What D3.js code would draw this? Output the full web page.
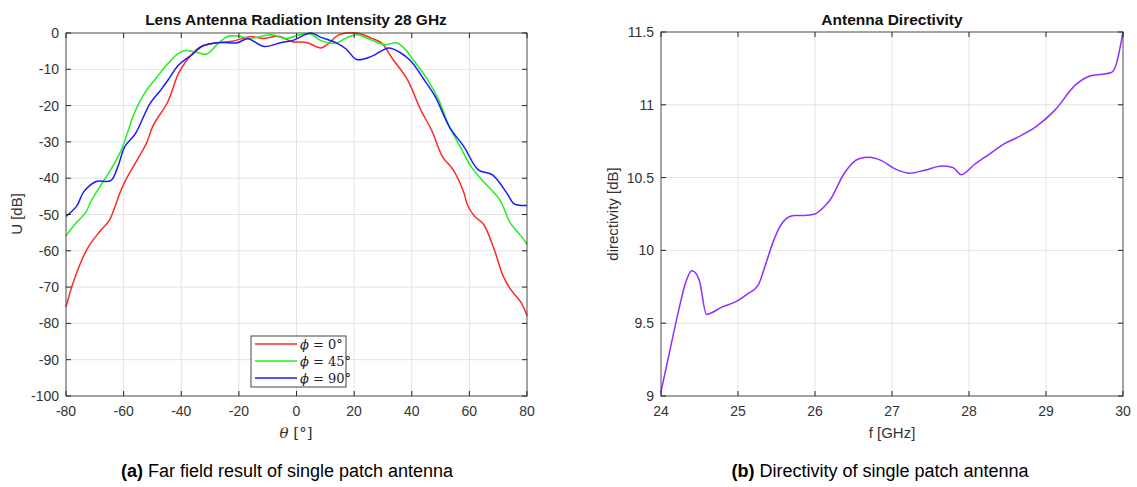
<!DOCTYPE html>
<html>
<head>
<meta charset="utf-8">
<script src="https://cdn.jsdelivr.net/npm/d3@7"></script>
<style>
  body { margin: 0; background: #fff; }
  svg text { font-family: "Liberation Sans", Arial, sans-serif; }
</style>
</head>
<body>
<svg id="chart" width="1137" height="487"></svg>
<script>
// 左图: 辐射强度 (theta, U dB)
var theta0 = [-80,-77.5,-72.6,-68.2,-65.1,-63.3,-61.5,-59.6,-54.6,-52.1,-49.7,-44.7,-41,-38.5,-33.6,-28.6,-22.4,-16.2,-11.3,-6.3,-1.4,3.5,8.5,11,14.7,20.9,25.9,29.6,33.3,38.3,43.2,46.9,50.7,54.4,58.1,59.3,61.8,64.9,68.6,71.7,74.2,77.9,80];
var u0 = [-75.5,-68.7,-59.4,-54.6,-51.8,-48.5,-44.5,-41,-34,-30.4,-25.4,-19,-11.2,-8,-3.9,-2.8,-2.3,-1,-1.5,-0.9,-2.4,-2.6,-4.1,-3,-0.5,0,-1.4,-2.8,-7.1,-12.6,-21.3,-26.8,-34.1,-37.7,-44,-47.3,-50.5,-52.7,-59.6,-66.9,-70.5,-74.2,-77.9];

var theta45 = [-80,-76.9,-73.2,-71.3,-68.2,-64.5,-60.8,-55.9,-52.1,-48.4,-44.7,-41,-38.5,-34.8,-31.1,-27.4,-23.7,-19.9,-16.2,-8.8,-3.8,1.2,5,8.5,13.5,17.2,20.9,25.9,30.8,34.6,37,40.7,45.7,49.4,53.1,56.8,60.6,64.3,70.5,74.2,77.9,80];
var u45 = [-55.9,-52.7,-49.5,-46.3,-42.3,-37.7,-32.2,-21.3,-15.8,-12.1,-8.5,-5.6,-4.8,-5.3,-5.8,-3,-0.9,-0.9,-1.5,-0.5,-1.5,-0.5,-0.3,-2.1,-2.8,-1.4,-0.5,-1.9,-3.2,-2.7,-3.9,-7.6,-13.1,-18.5,-25.9,-31.3,-36.8,-40.4,-45.9,-52.3,-55.9,-58.2];

var theta90 = [-80,-76.3,-73.8,-69.5,-64.5,-62,-59.6,-55.9,-50.9,-47.2,-44.7,-41,-36,-32.4,-26.2,-20.6,-16.9,-11.3,-5.1,-1.4,5,8.5,13.5,17.2,20.9,25.9,32,35.8,39.5,44.5,48.2,53.1,58.1,63.1,68,73,75.4,77.9,80];
var u90 = [-50.5,-47.7,-43.7,-40.9,-40.7,-36.8,-31.3,-27.7,-19.5,-15.8,-13.1,-8.9,-5.8,-3.5,-2.6,-2.7,-1.6,-3.7,-2.6,-2.1,0,-1.2,-2.6,-4.4,-7.3,-6.5,-4.1,-5.3,-7.6,-13.1,-17.6,-25.9,-31.3,-37.7,-39.1,-44.1,-47,-47.5,-47.5];

var thetaTicks = [-80,-60,-40,-20,0,20,40,60,80];
var uTicks = [0,-10,-20,-30,-40,-50,-60,-70,-80,-90,-100];
var legendLabels = ["0", "45", "90"];

// 右图: 方向性 (f GHz, D dB)
var freq = [24,24.11,24.23,24.32,24.4,24.44,24.5,24.59,24.65,24.79,24.98,25.12,25.26,25.35,25.45,25.54,25.63,25.73,25.86,26,26.1,26.2,26.38,26.57,26.71,26.85,27.04,27.23,27.42,27.65,27.79,27.9,28.07,28.26,28.45,28.68,28.87,29.11,29.39,29.58,29.72,29.84,29.9,30];
var direct = [9.03,9.3,9.59,9.78,9.86,9.85,9.79,9.56,9.57,9.61,9.65,9.7,9.76,9.89,10.05,10.16,10.22,10.24,10.24,10.25,10.29,10.35,10.53,10.63,10.64,10.62,10.56,10.53,10.55,10.58,10.57,10.52,10.59,10.66,10.73,10.79,10.85,10.96,11.14,11.2,11.21,11.22,11.26,11.5];
var fTicks = [24,25,26,27,28,29,30];
var dTicks = [9,9.5,10,10.5,11,11.5];
var dTickLabels = ["9","9.5","10","10.5","11","11.5"];

var svg = d3.select("#chart");
var gridColor = "#e3e3e3", axisColor = "#262626", tickText = "#333";

/* 网格 */
function drawGrid(x, y, xt, yt) {
    var g = svg.append("g");
    var x0 = x.range()[0], x1 = x.range()[1], y0 = y.range()[0], y1 = y.range()[1];
    g.selectAll(".gx").data(xt).enter().append("line")
        .attr("x1", d => x(d)).attr("x2", d => x(d))
        .attr("y1", y0).attr("y2", y1)
        .attr("stroke", gridColor).attr("stroke-width", 1);
    g.selectAll(".gy").data(yt).enter().append("line")
        .attr("x1", x0).attr("x2", x1)
        .attr("y1", d => y(d)).attr("y2", d => y(d))
        .attr("stroke", gridColor).attr("stroke-width", 1);
}

/* 坐标框, 刻度, 刻度标签 */
function drawBox(x, y, xt, yt, ytLabels) {
    var g = svg.append("g");
    var x0 = x.range()[0], x1 = x.range()[1], y0 = y.range()[0], y1 = y.range()[1];
    var tl = 5;
    // 内向刻度, 四边
    xt.forEach(function (d) {
        g.append("line").attr("x1", x(d)).attr("x2", x(d)).attr("y1", y0).attr("y2", y0 - tl).attr("stroke", axisColor);
        g.append("line").attr("x1", x(d)).attr("x2", x(d)).attr("y1", y1).attr("y2", y1 + tl).attr("stroke", axisColor);
    });
    yt.forEach(function (d) {
        g.append("line").attr("x1", x0).attr("x2", x0 + tl).attr("y1", y(d)).attr("y2", y(d)).attr("stroke", axisColor);
        g.append("line").attr("x1", x1).attr("x2", x1 - tl).attr("y1", y(d)).attr("y2", y(d)).attr("stroke", axisColor);
    });
    g.append("rect").attr("x", x0).attr("y", y1).attr("width", x1 - x0).attr("height", y0 - y1)
        .attr("fill", "none").attr("stroke", axisColor).attr("stroke-width", 1).attr("stroke-opacity", 0.75);
    g.selectAll(".xl").data(xt).enter().append("text")
        .attr("x", d => x(d)).attr("y", y0 + 20)
        .attr("text-anchor", "middle").attr("font-size", 14).attr("fill", tickText)
        .text(d => d);
    g.selectAll(".yl").data(yt).enter().append("text")
        .attr("x", x0 - 7).attr("y", d => y(d) + 5)
        .attr("text-anchor", "end").attr("font-size", 14).attr("fill", tickText)
        .text((d, i) => ytLabels ? ytLabels[i] : d);
}

// ---------- 左图 ----------
var xL = d3.scaleLinear().domain([-80, 80]).range([66, 527]);
var yL = d3.scaleLinear().domain([-100, 0]).range([396, 33]);
drawGrid(xL, yL, thetaTicks, uTicks);

var lineL = d3.line().x(d => xL(d[0])).y(d => yL(d[1])).curve(d3.curveCatmullRom.alpha(0.5));
var seriesL = [
    { t: theta0, u: u0, color: "#ff2a2a" },
    { t: theta45, u: u45, color: "#22ee22" },
    { t: theta90, u: u90, color: "#1a1aff" }
];
seriesL.forEach(function (s) {
    svg.append("path")
        .datum(d3.zip(s.t, s.u))
        .attr("d", lineL)
        .attr("fill", "none")
        .attr("stroke", s.color)
        .attr("stroke-width", 1.5);
});
drawBox(xL, yL, thetaTicks, uTicks);

svg.append("text").attr("x", 296).attr("y", 25).attr("text-anchor", "middle")
    .attr("font-size", 15.5).attr("font-weight", "bold").attr("fill", "#111")
    .text("Lens Antenna Radiation Intensity 28 GHz");
svg.append("text").attr("transform", "translate(22,214)rotate(-90)").attr("text-anchor", "middle")
    .attr("font-size", 15).attr("fill", tickText).text("U [dB]");
var xlab = svg.append("text").attr("x", 296).attr("y", 438).attr("text-anchor", "middle")
    .attr("font-size", 15).attr("fill", tickText)
    .style("font-family", "'DejaVu Serif','Liberation Serif',serif");
xlab.append("tspan").attr("font-style", "italic").text("θ");
xlab.append("tspan").text(" [°]");

// 图例
var lg = svg.append("g");
lg.append("rect").attr("x", 251).attr("y", 336).attr("width", 95).attr("height", 51)
    .attr("fill", "#fff").attr("stroke", "#444").attr("stroke-width", 1);
seriesL.forEach(function (s, i) {
    var yy = 344 + i * 17;
    lg.append("line").attr("x1", 255).attr("x2", 297).attr("y1", yy).attr("y2", yy)
        .attr("stroke", s.color).attr("stroke-width", 1.5);
    var t = lg.append("text").attr("x", 300).attr("y", yy + 4.5).attr("font-size", 13).attr("fill", "#222")
        .style("font-family", "'DejaVu Serif','Liberation Serif',serif");
    t.append("tspan").attr("font-style", "italic").text("ϕ");
    t.append("tspan").text(" = " + legendLabels[i] + "°");
});

// ---------- 右图 ----------
var xR = d3.scaleLinear().domain([24, 30]).range([661, 1123]);
var yR = d3.scaleLinear().domain([9, 11.5]).range([396, 32]);
drawGrid(xR, yR, fTicks, dTicks);
svg.append("path")
    .datum(d3.zip(freq, direct))
    .attr("d", d3.line().x(d => xR(d[0])).y(d => yR(d[1])).curve(d3.curveMonotoneX))
    .attr("fill", "none").attr("stroke", "#8f2eff").attr("stroke-width", 1.5);
drawBox(xR, yR, fTicks, dTicks, dTickLabels);

svg.append("text").attr("x", 892).attr("y", 25).attr("text-anchor", "middle")
    .attr("font-size", 15.5).attr("font-weight", "bold").attr("fill", "#111")
    .text("Antenna Directivity");
svg.append("text").attr("transform", "translate(618,214)rotate(-90)").attr("text-anchor", "middle")
    .attr("font-size", 15).attr("fill", tickText).text("directivity [dB]");
svg.append("text").attr("x", 892).attr("y", 438).attr("text-anchor", "middle")
    .attr("font-size", 15).attr("fill", tickText).text("f [GHz]");

// ---------- 图注 ----------
function caption(x, tag, rest) {
    var t = svg.append("text").attr("x", x).attr("y", 477).attr("text-anchor", "middle")
        .attr("font-size", 18).attr("fill", "#000");
    t.append("tspan").attr("font-weight", "bold").text("(" + tag + ")");
    t.append("tspan").text(" " + rest);
}
caption(287, "a", "Far field result of single patch antenna");
caption(880, "b", "Directivity of single patch antenna");
</script>
</body>
</html>
